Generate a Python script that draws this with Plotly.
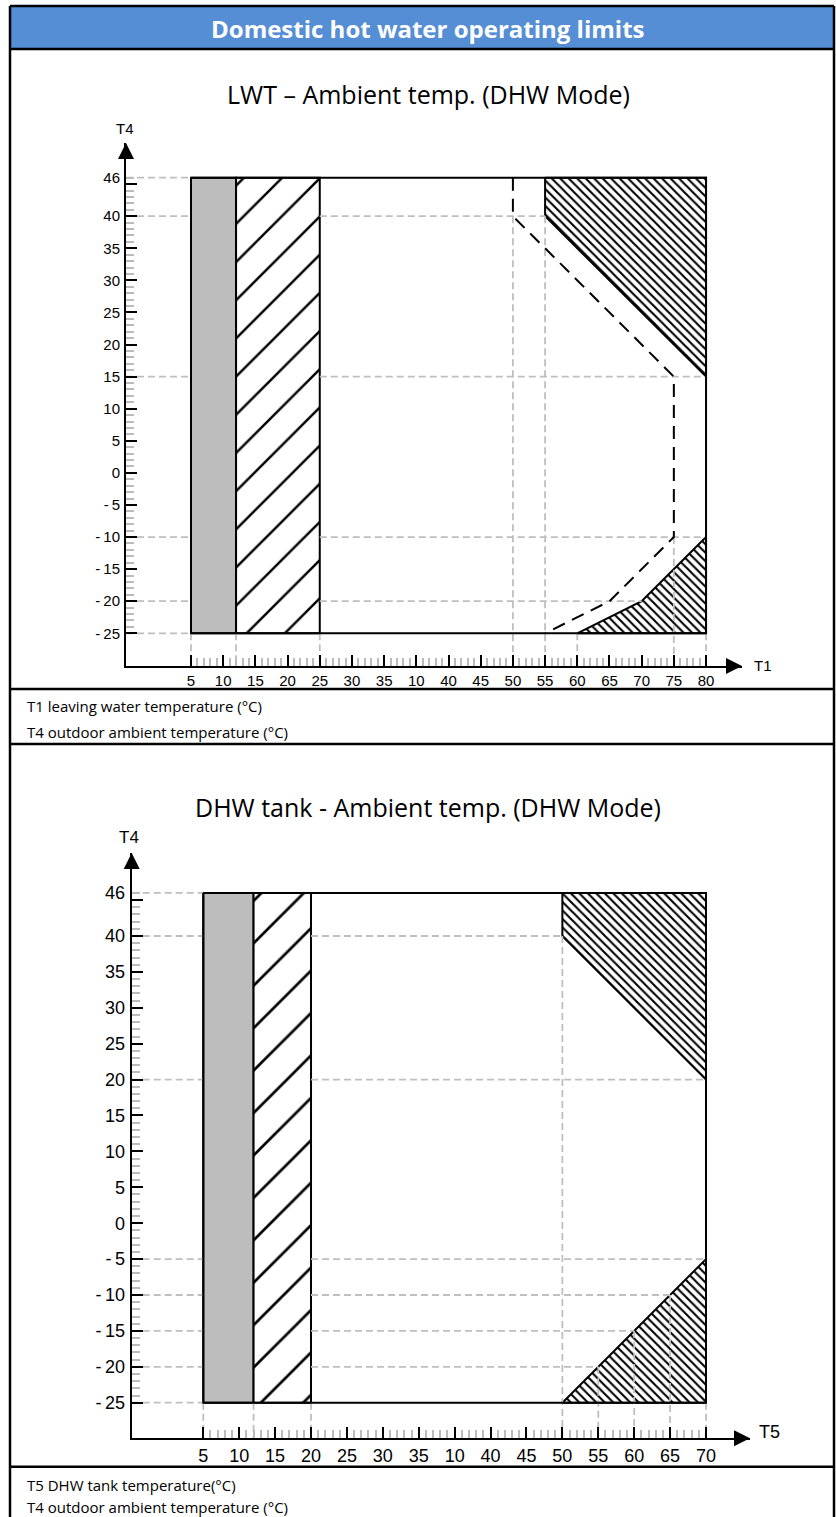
import plotly.graph_objects as go

W, H = 836, 1517

# ---------------- texts ----------------
header_text = "Domestic hot water operating limits"
c1_title = "LWT – Ambient temp. (DHW Mode)"
c2_title = "DHW tank - Ambient temp. (DHW Mode)"
c1_notes = ["T1 leaving water temperature (°C)", "T4 outdoor ambient temperature (°C)"]
c2_notes = ["T5 DHW tank temperature(°C)", "T4 outdoor ambient temperature (°C)"]
c1_xname, c1_yname = "T1", "T4"
c2_xname, c2_yname = "T5", "T4"

# ---------------- chart 1 : LWT - ambient ----------------
c1_xlabels = [5, 10, 15, 20, 25, 30, 35, 10, 40, 45, 50, 55, 60, 65, 70, 75, 80]
c1_ylabels = [46, 40, 35, 30, 25, 20, 15, 10, 5, 0, -5, -10, -15, -20, -25]
c1_ymajor = [45, 40, 35, 30, 25, 20, 15, 10, 5, 0, -5, -10, -15, -20, -25]
c1_gray_x = [5, 12, 12, 5, 5]
c1_gray_y = [-25, -25, 46, 46, -25]
c1_hatch_x = [12, 25, 25, 12, 12]
c1_hatch_y = [-25, -25, 46, 46, -25]
c1_env_x = [5, 80, 80, 5, 5]
c1_env_y = [46, 46, -25, -25, 46]
c1_hi_x = [55, 80, 80, 55, 55]
c1_hi_y = [46, 46, 15, 40, 46]
c1_lo_x = [60, 70, 80, 80, 60]
c1_lo_y = [-25, -20, -10, -25, -25]
c1_dash_x = [50, 50, 75, 75, 65, 55]
c1_dash_y = [46, 40, 15, -10, -20, -25]
c1_hgrid_axis = [46, 40, 15, -10, -20, -25]
c1_hgrid_inner = [(40, 25, 55), (15, 25, 80), (-10, 25, 80), (-20, 25, 70)]
c1_vgrid = [(5, -25), (12, -25), (25, -25), (50, 40), (55, 40), (60, -25), (75, -10), (80, -25)]

# ---------------- chart 2 : DHW tank - ambient ----------------
c2_xlabels = [5, 10, 15, 20, 25, 30, 35, 10, 40, 45, 50, 55, 60, 65, 70]
c2_ylabels = [46, 40, 35, 30, 25, 20, 15, 10, 5, 0, -5, -10, -15, -20, -25]
c2_ymajor = [45, 40, 35, 30, 25, 20, 15, 10, 5, 0, -5, -10, -15, -20, -25]
c2_gray_x = [5, 12, 12, 5, 5]
c2_gray_y = [-25, -25, 46, 46, -25]
c2_hatch_x = [12, 20, 20, 12, 12]
c2_hatch_y = [-25, -25, 46, 46, -25]
c2_env_x = [5, 70, 70, 5, 5]
c2_env_y = [46, 46, -25, -25, 46]
c2_hi_x = [50, 70, 70, 50, 50]
c2_hi_y = [46, 46, 20, 40, 46]
c2_lo_x = [50, 70, 70, 50]
c2_lo_y = [-25, -5, -25, -25]
c2_hgrid_axis = [46, 40, 20, -5, -10, -15, -20, -25]
c2_hgrid_inner = [(40, 20, 50), (20, 20, 70), (-5, 20, 70), (-10, 20, 65), (-15, 20, 60), (-20, 20, 55)]
c2_vgrid = [(5, -25), (12, -25), (20, -25), (50, 40), (55, -20), (60, -15), (65, -10), (70, -25)]


def xpos(v):
    """temperature -> position on the (index-spaced) tick axis"""
    return (v - 5) / 5 if v <= 35 else (v - 40) / 5 + 8


def ylab(v):
    return str(v) if v >= 0 else "-\u2009" + str(-v)


# pixel geometry of each panel (layout only)
P1 = dict(axis_x=126, idx0=191, ppi=32.19, tip_x=742, y46=177.7, ym25=633.3, axis_y=666, tip_y=143, fs=15)
P2 = dict(axis_x=131.7, idx0=203.3, ppi=35.907, tip_x=750, y46=892.9, ym25=1402.7, axis_y=1438.3, tip_y=853, fs=18)


def geom(P):
    xr = [(P["axis_x"] - P["idx0"]) / P["ppi"], (P["tip_x"] - P["idx0"]) / P["ppi"]]
    ppu = (P["ym25"] - P["y46"]) / 71.0
    yr = [-25 - (P["axis_y"] - P["ym25"]) / ppu, 46 + (P["y46"] - P["tip_y"]) / ppu]
    xd = [P["axis_x"] / W, P["tip_x"] / W]
    yd = [1 - P["axis_y"] / H, 1 - P["tip_y"] / H]
    return xr, yr, xd, yd


fig = go.Figure()
GRID = "#BFBFBF"
FONT_TXT = "Open Sans"
FONT_AX = "Liberation Sans"


def add_panel(xa, ya, xr, yr, gray, hatch, hatch_size, hi, lo, env, hgrid_axis, hgrid_inner, vgrid, dash=None):
    ax = dict(xaxis=xa, yaxis=ya)
    # grey band
    fig.add_trace(go.Scatter(x=[xpos(v) for v in gray[0]], y=gray[1], mode="lines", fill="toself",
                             fillcolor="#BDBDBD", line=dict(color="black", width=2), hoverinfo="skip", **ax))
    # "/" hatched band
    fig.add_trace(go.Scatter(x=[xpos(v) for v in hatch[0]], y=hatch[1], mode="lines", fill="toself",
                             fillcolor="white",
                             fillpattern=dict(shape="/", size=hatch_size, solidity=0.09, fgcolor="black",
                                              bgcolor="white", fillmode="replace"),
                             line=dict(color="black", width=2), hoverinfo="skip", **ax))
    # dense "\" hatched regions
    for poly in (hi, lo):
        fig.add_trace(go.Scatter(x=[xpos(v) for v in poly[0]], y=poly[1], mode="lines", fill="toself",
                                 fillcolor="white",
                                 fillpattern=dict(shape="\\", size=6, solidity=0.35, fgcolor="black",
                                                  bgcolor="white", fillmode="replace"),
                                 line=dict(color="black", width=2), hoverinfo="skip", **ax))
    # partial grey dashed grid lines
    gx, gy = [], []
    for yv in hgrid_axis:
        gx += [xr[0], xpos(5), None]
        gy += [yv, yv, None]
    for yv, a, b in hgrid_inner:
        gx += [xpos(a), xpos(b), None]
        gy += [yv, yv, None]
    for xv, top in vgrid:
        gx += [xpos(xv), xpos(xv), None]
        gy += [top, yr[0], None]
    fig.add_trace(go.Scatter(x=gx, y=gy, mode="lines", line=dict(color=GRID, width=1.8, dash="7px,4px"),
                             hoverinfo="skip", cliponaxis=False, **ax))
    # envelope outline
    fig.add_trace(go.Scatter(x=[xpos(v) for v in env[0]], y=env[1], mode="lines",
                             line=dict(color="black", width=2), hoverinfo="skip", **ax))
    if dash is not None:
        fig.add_trace(go.Scatter(x=[xpos(v) for v in dash[0]], y=dash[1], mode="lines",
                                 line=dict(color="black", width=2, dash="13px,8px"), hoverinfo="skip", **ax))


xr1, yr1, xd1, yd1 = geom(P1)
xr2, yr2, xd2, yd2 = geom(P2)

add_panel("x", "y", xr1, yr1, (c1_gray_x, c1_gray_y), (c1_hatch_x, c1_hatch_y), 27,
          (c1_hi_x, c1_hi_y), (c1_lo_x, c1_lo_y), (c1_env_x, c1_env_y),
          c1_hgrid_axis, c1_hgrid_inner, c1_vgrid, dash=(c1_dash_x, c1_dash_y))
add_panel("x2", "y2", xr2, yr2, (c2_gray_x, c2_gray_y), (c2_hatch_x, c2_hatch_y), 30,
          (c2_hi_x, c2_hi_y), (c2_lo_x, c2_lo_y), (c2_env_x, c2_env_y),
          c2_hgrid_axis, c2_hgrid_inner, c2_vgrid)
# empty traces so overlay tick axes render
fig.add_trace(go.Scatter(x=[None], y=[None], xaxis="x", yaxis="y3", showlegend=False))
fig.add_trace(go.Scatter(x=[None], y=[None], xaxis="x2", yaxis="y4", showlegend=False))


def xaxis_cfg(xr, xd, labels, fs, anchor):
    n = len(labels)
    minor = [i + k * 0.2 for i in range(n - 1) for k in range(1, 5)]
    return dict(domain=xd, range=xr, anchor=anchor, tickmode="array", tickvals=list(range(n)),
                ticktext=[str(v) for v in labels], ticks="inside", ticklen=11, tickwidth=2, tickcolor="black",
                showline=True, linecolor="black", linewidth=2, showgrid=False, zeroline=False,
                tickfont=dict(family=FONT_AX, size=fs, color="black"), fixedrange=True,
                minor=dict(tickmode="array", tickvals=minor, ticks="inside", ticklen=8, tickwidth=2,
                           tickcolor="#BBBBBB", showgrid=False))


def ylab_cfg(yr, yd, labels, fs, anchor):
    return dict(domain=yd, range=yr, anchor=anchor, tickmode="array", tickvals=labels,
                ticktext=[ylab(v) for v in labels], ticks="", showline=True, linecolor="black", linewidth=2,
                showgrid=False, zeroline=False, tickfont=dict(family=FONT_AX, size=fs, color="black"),
                fixedrange=True, ticklabelstandoff=1)


def ytick_cfg(yr, major, over, anchor):
    minor = [v for v in range(-25, 47) if v % 5 != 0]
    return dict(range=yr, overlaying=over, anchor=anchor, side="left", tickmode="array", tickvals=major,
                showticklabels=False, ticks="inside", ticklen=11, tickwidth=2, tickcolor="black",
                showline=False, showgrid=False, zeroline=False, fixedrange=True,
                minor=dict(tickmode="array", tickvals=minor, ticks="inside", ticklen=8, tickwidth=2,
                           tickcolor="#BBBBBB", showgrid=False))


def px_x(p):
    return p / W


def px_y(p):
    return 1 - p / H


L, R = 10, 834
shapes = [
    dict(type="rect", xref="paper", yref="paper", x0=px_x(L), x1=px_x(R), y0=px_y(6), y1=px_y(49),
         fillcolor="#558ED5", line=dict(width=0), layer="below"),
]
for yy in (6, 49, 689, 744, 1466.7):
    shapes.append(dict(type="line", xref="paper", yref="paper", x0=px_x(L), x1=px_x(R), y0=px_y(yy), y1=px_y(yy),
                       line=dict(color="black", width=2.5)))
for xx in (L, R):
    shapes.append(dict(type="line", xref="paper", yref="paper", x0=px_x(xx), x1=px_x(xx), y0=px_y(6), y1=0,
                       line=dict(color="black", width=2.5)))


def txt(text, x, y, size, family=FONT_TXT, color="black", xanchor="center", bold=False, **kw):
    return dict(text=("<b>%s</b>" % text) if bold else text, xref="paper", yref="paper", x=px_x(x), y=px_y(y),
                xanchor=xanchor, yanchor="middle", showarrow=False,
                font=dict(family=family, size=size, color=color), **kw)


annotations = [
    txt(header_text, 428, 28, 24, color="white", bold=True),
    txt(c1_title, 428, 94, 25),
    txt(c2_title, 428, 807, 25),
    txt(c1_notes[0], 25, 706, 15, xanchor="left"),
    txt(c1_notes[1], 25, 732, 15, xanchor="left"),
    txt(c2_notes[0], 25, 1485, 15, xanchor="left"),
    txt(c2_notes[1], 25, 1507, 15, xanchor="left"),
    txt(c1_yname, 125, 128, 15, family=FONT_AX),
    txt(c2_yname, 129, 837, 17, family=FONT_AX),
    txt(c1_xname, 752, 666, 15, family=FONT_AX, xanchor="left"),
    txt(c2_xname, 757, 1432, 18, family=FONT_AX, xanchor="left"),
]
# axis arrowheads
for xa, ya, xr, yr in (("x", "y", xr1, yr1), ("x2", "y2", xr2, yr2)):
    annotations.append(dict(xref=xa, yref=ya, x=xr[1], y=yr[0], ax=-16, ay=0, showarrow=True, text="",
                            arrowhead=2, arrowsize=1.6, arrowwidth=2, arrowcolor="black"))
    annotations.append(dict(xref=xa, yref=ya, x=xr[0], y=yr[1], ax=0, ay=16, showarrow=True, text="",
                            arrowhead=2, arrowsize=1.6, arrowwidth=2, arrowcolor="black"))

fig.update_layout(
    width=W, height=H, margin=dict(l=0, r=0, t=0, b=0), autosize=False,
    paper_bgcolor="white", plot_bgcolor="white", showlegend=False,
    xaxis=xaxis_cfg(xr1, xd1, c1_xlabels, P1["fs"], "y"),
    yaxis=ylab_cfg(yr1, yd1, c1_ylabels, P1["fs"], "x"),
    yaxis3=ytick_cfg(yr1, c1_ymajor, "y", "x"),
    xaxis2=xaxis_cfg(xr2, xd2, c2_xlabels, P2["fs"], "y2"),
    yaxis2=ylab_cfg(yr2, yd2, c2_ylabels, P2["fs"], "x2"),
    yaxis4=ytick_cfg(yr2, c2_ymajor, "y2", "x2"),
    shapes=shapes, annotations=annotations,
)

fig.write_html("out.html", config={"displayModeBar": False},
               post_script="document.body.style.margin='0';")
